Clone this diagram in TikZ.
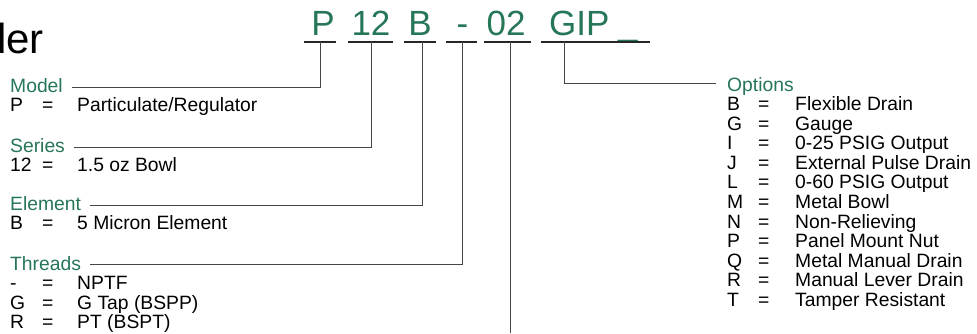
\documentclass[tikz,border=0pt]{standalone}
\usepackage{fontspec}
\setmainfont{Liberation Sans}
\definecolor{pgreen}{RGB}{38,118,88}
\definecolor{lgray}{RGB}{70,70,70}
\begin{document}
\begin{tikzpicture}[x=1pt,y=-1pt,
  codetxt/.style={font=\fontsize{35}{35}\selectfont, text=pgreen, inner sep=0pt, anchor=base},
  head/.style={font=\fontsize{19.3}{19.3}\selectfont, text=pgreen, inner sep=0pt, anchor=base west},
  body/.style={font=\fontsize{19.3}{19.3}\selectfont, text=black, inner sep=0pt, anchor=base west},
  uline/.style={draw=black!85, line width=1.8pt},
  conn/.style={draw=lgray, line width=1pt},
]
\useasboundingbox (0,0) rectangle (977,333);
% title fragment
\node[font=\fontsize{42}{42}\selectfont, inner sep=0pt, anchor=base east] (title) at (44,53) {der};
% code letters
\node[codetxt] (cP) at (323,35) {P};
\node[codetxt] (c12) at (371,35) {12};
\node[codetxt] (cB) at (420,35) {B};
\node[codetxt] (cD) at (462.5,35) {-};
\node[codetxt] (c02) at (506,35) {02};
\node[codetxt, anchor=base west] (cGIP) at (549,35) {GIP};
\node[codetxt, anchor=base west] (cU) at (618,35) {\_};
% underlines
\draw[uline] (304,42) -- (336,42);
\draw[uline] (348,42) -- (393,42);
\draw[uline] (404,42) -- (436,42);
\draw[uline] (446,42) -- (477,42);
\draw[uline] (484,42) -- (531,42);
\draw[uline] (541,42) -- (650,42);
\coordinate (uP) at (320,42);
\coordinate (u12) at (371,42);
\coordinate (uB) at (422,42);
\coordinate (uD) at (462,42);
\coordinate (u02) at (510.5,42);
\coordinate (uG) at (564,42);
\coordinate (end02) at (510.5,333);
% left column
\node[head] (model) at (10,92) {Model};
\node[body] (mP) at (10,111.5) {P};
\node[body] (mPe) at (42,111.5) {=};
\node[body] (mPd) at (77,111.5) {Particulate/Regulator};

\node[head] (series) at (10,152) {Series};
\node[body] (s12) at (10,171.5) {12};
\node[body] (s12e) at (42,171.5) {=};
\node[body] (s12d) at (77,171.5) {1.5 oz Bowl};

\node[head] (element) at (10,210) {Element};
\node[body] (eB) at (10,229.5) {B};
\node[body] (eBe) at (42,229.5) {=};
\node[body] (eBd) at (77,229.5) {5 Micron Element};

\node[head] (threads) at (10,270) {Threads};
\node[body] (t1) at (10,289.5) {-};
\node[body] (t1e) at (42,289.5) {=};
\node[body] (t1d) at (77,289.5) {NPTF};
\node[body] (t2) at (10,309) {G};
\node[body] (t2e) at (42,309) {=};
\node[body] (t2d) at (77,309) {G Tap (BSPP)};
\node[body] (t3) at (10,328.5) {R};
\node[body] (t3e) at (42,328.5) {=};
\node[body] (t3d) at (77,328.5) {PT (BSPT)};
% right column
\node[head] (options) at (727,91) {Options};
\foreach \k/\d [count=\i from 0] in {B/Flexible Drain, G/Gauge, I/0-25 PSIG Output, J/External Pulse Drain, L/0-60 PSIG Output, M/Metal Bowl, N/Non-Relieving, P/Panel Mount Nut, Q/Metal Manual Drain, R/Manual Lever Drain, T/Tamper Resistant}{
  \node[body] (ok\i) at (727,110.5+19.6*\i) {\k};
  \node[body] (oe\i) at (758,110.5+19.6*\i) {=};
  \node[body] (od\i) at (795,110.5+19.6*\i) {\d};
}
% connectors
\draw[conn] (uP) |- ([xshift=9pt,yshift=5pt]model.base east);
\draw[conn] (u12) |- ([xshift=9pt,yshift=5pt]series.base east);
\draw[conn] (uB) |- ([xshift=9pt,yshift=5pt]element.base east);
\draw[conn] (uD) |- ([xshift=9pt,yshift=6pt]threads.base east);
\draw[conn] (u02) -- (end02);
\draw[conn] (uG) |- ([xshift=-11pt,yshift=8pt]options.base west);
\end{tikzpicture}
\end{document}
